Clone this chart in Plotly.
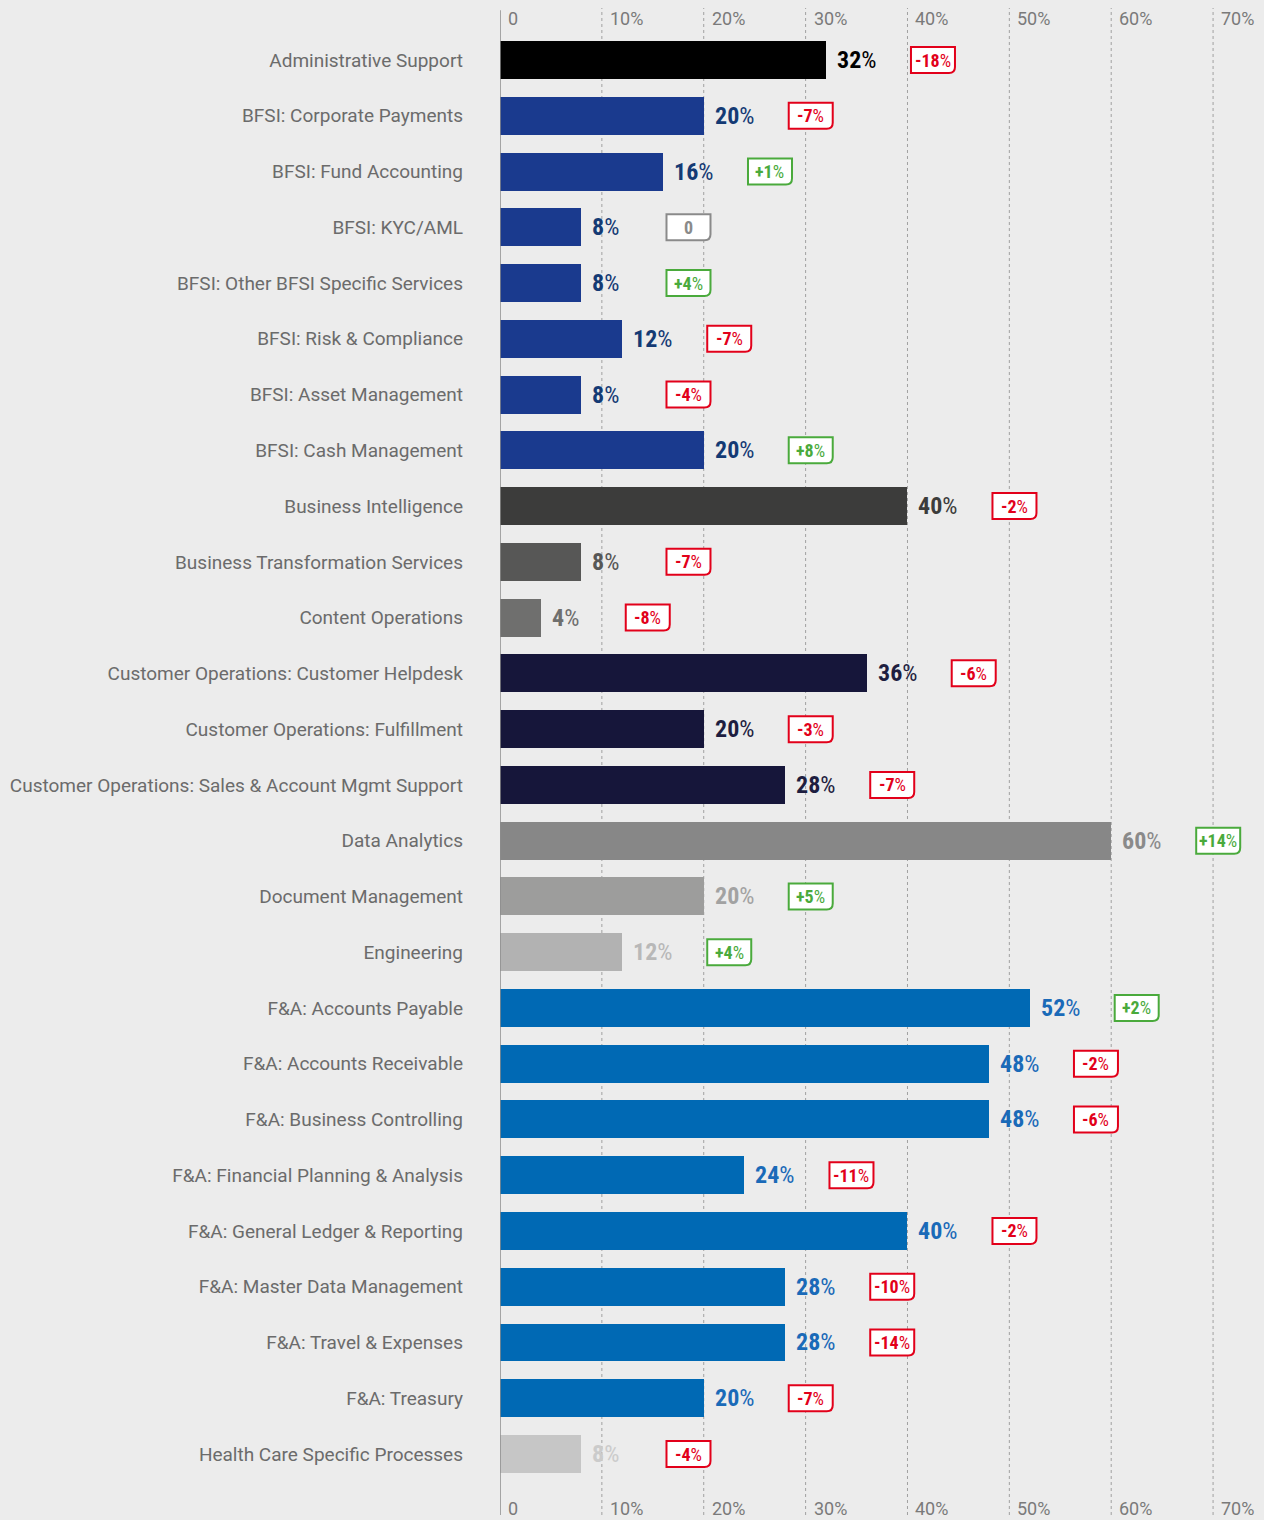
import plotly.graph_objects as go

# Share of respondents per process area, with change vs. previous survey
categories = [
    "Administrative Support",
    "BFSI: Corporate Payments",
    "BFSI: Fund Accounting",
    "BFSI: KYC/AML",
    "BFSI: Other BFSI Specific Services",
    "BFSI: Risk & Compliance",
    "BFSI: Asset Management",
    "BFSI: Cash Management",
    "Business Intelligence",
    "Business Transformation Services",
    "Content Operations",
    "Customer Operations: Customer Helpdesk",
    "Customer Operations: Fulfillment",
    "Customer Operations: Sales & Account Mgmt Support",
    "Data Analytics",
    "Document Management",
    "Engineering",
    "F&A: Accounts Payable",
    "F&A: Accounts Receivable",
    "F&A: Business Controlling",
    "F&A: Financial Planning & Analysis",
    "F&A: General Ledger & Reporting",
    "F&A: Master Data Management",
    "F&A: Travel & Expenses",
    "F&A: Treasury",
    "Health Care Specific Processes",
]
shares = [32, 20, 16, 8, 8, 12, 8, 20, 40, 8, 4, 36, 20, 28, 60, 20, 12,
          52, 48, 48, 24, 40, 28, 28, 20, 8]
changes = [-18, -7, 1, 0, 4, -7, -4, 8, -2, -7, -8, -6, -3, -7, 14, 5, 4,
           2, -2, -6, -11, -2, -10, -14, -7, -4]
x_ticks = [0, 10, 20, 30, 40, 50, 60, 70]
x_tick_labels = ["0", "10%", "20%", "30%", "40%", "50%", "60%", "70%"]

# Bar / label colours by process family
BFSI = ("#1a3a8e", "#143a74")
CUST = ("#16163a", "#1e1e40")
FA = ("#0069b4", "#1a6ab8")
bar_styles = (
    [("#000000", "#000000")]
    + [BFSI] * 7
    + [("#3c3c3b", "#3c3c3b"), ("#575756", "#575756"), ("#6f6f6e", "#6f6f6e")]
    + [CUST] * 3
    + [("#878787", "#8a8a8a"), ("#9d9d9c", "#a2a2a2"), ("#b2b2b2", "#b8b8b8")]
    + [FA] * 8
    + [("#c6c6c6", "#cbcbcb")]
)

BG = "#ececec"
COND = "Roboto Condensed, Liberation Sans Narrow, DejaVu Sans Condensed, Arial Narrow, sans-serif"
RED, GREEN, GREY = "#e2001a", "#4aaa3c", "#8a8a8a"

ypos = list(range(len(categories)))

fig = go.Figure()
fig.add_trace(go.Bar(
    x=shares,
    y=ypos,
    orientation="h",
    width=0.68,
    marker=dict(color=[s[0] for s in bar_styles], line=dict(width=0)),
    hoverinfo="skip",
))

shapes = []
annotations = []

# Dotted vertical gridlines and solid baseline
for t in x_ticks[1:]:
    shapes.append(dict(type="line", xref="x", yref="paper", x0=t, x1=t, y0=0, y1=1,
                       line=dict(color="#a0a0a0", width=1, dash="dot"), layer="below"))
shapes.append(dict(type="line", xref="x", yref="paper", x0=0, x1=0, y0=0, y1=0.9985,
                   line=dict(color="#8c8c8c", width=1.5), layer="above"))

# Axis labels at top and bottom
for t, lab in zip(x_ticks, x_tick_labels):
    annotations.append(dict(x=t, y=1, xref="x", yref="paper", text=lab, showarrow=False,
                            xanchor="left", yanchor="top", xshift=6, yshift=2,
                            font=dict(family="Roboto", size=18, color="#7a7a7a")))
    annotations.append(dict(x=t, y=0, xref="x", yref="paper", text=lab, showarrow=False,
                            xanchor="left", yanchor="bottom", xshift=6, yshift=-6,
                            font=dict(family="Roboto", size=18, color="#7a7a7a")))

# Value labels and change badges
badge_path = "M85,13 L129,13 L129,-7 Q129,-13 123,-13 L85,-13 Z"
for i, (v, d) in enumerate(zip(shares, changes)):
    annotations.append(dict(x=v, y=i, xref="x", yref="y", text=f"<b>{v}</b>%",
                            showarrow=False, xanchor="left", yanchor="middle", xshift=9,
                            font=dict(family=COND, size=24, color=bar_styles[i][1])))
    if d > 0:
        col, txt = GREEN, f"<b>+{d}</b>%"
    elif d < 0:
        col, txt = RED, f"<b>{d}</b>%"
    else:
        col, txt = GREY, "<b>0</b>"
    shapes.append(dict(type="path", xref="x", yref="y", xsizemode="pixel", ysizemode="pixel",
                       xanchor=v, yanchor=i, path=badge_path, fillcolor="#ffffff",
                       line=dict(color=col, width=2), layer="above"))
    annotations.append(dict(x=v, y=i, xref="x", yref="y", text=txt, showarrow=False,
                            xanchor="center", yanchor="middle", xshift=107,
                            font=dict(family=COND, size=18, color=col)))

fig.update_layout(
    width=1264,
    height=1520,
    margin=dict(l=500, r=0, t=8, b=5),
    paper_bgcolor=BG,
    plot_bgcolor=BG,
    showlegend=False,
    bargap=0,
    shapes=shapes,
    annotations=annotations,
    xaxis=dict(range=[0, 75], showgrid=False, zeroline=False, showticklabels=False,
               showline=False, fixedrange=True),
    yaxis=dict(range=[26.094, -0.933], tickmode="array", tickvals=ypos, ticktext=categories,
               showgrid=False, zeroline=False, showline=False, ticks="",
               ticklabelstandoff=36,
               tickfont=dict(family="Roboto", size=19, color="#6b6b6b"), fixedrange=True),
)

fig.write_html("out.html")
